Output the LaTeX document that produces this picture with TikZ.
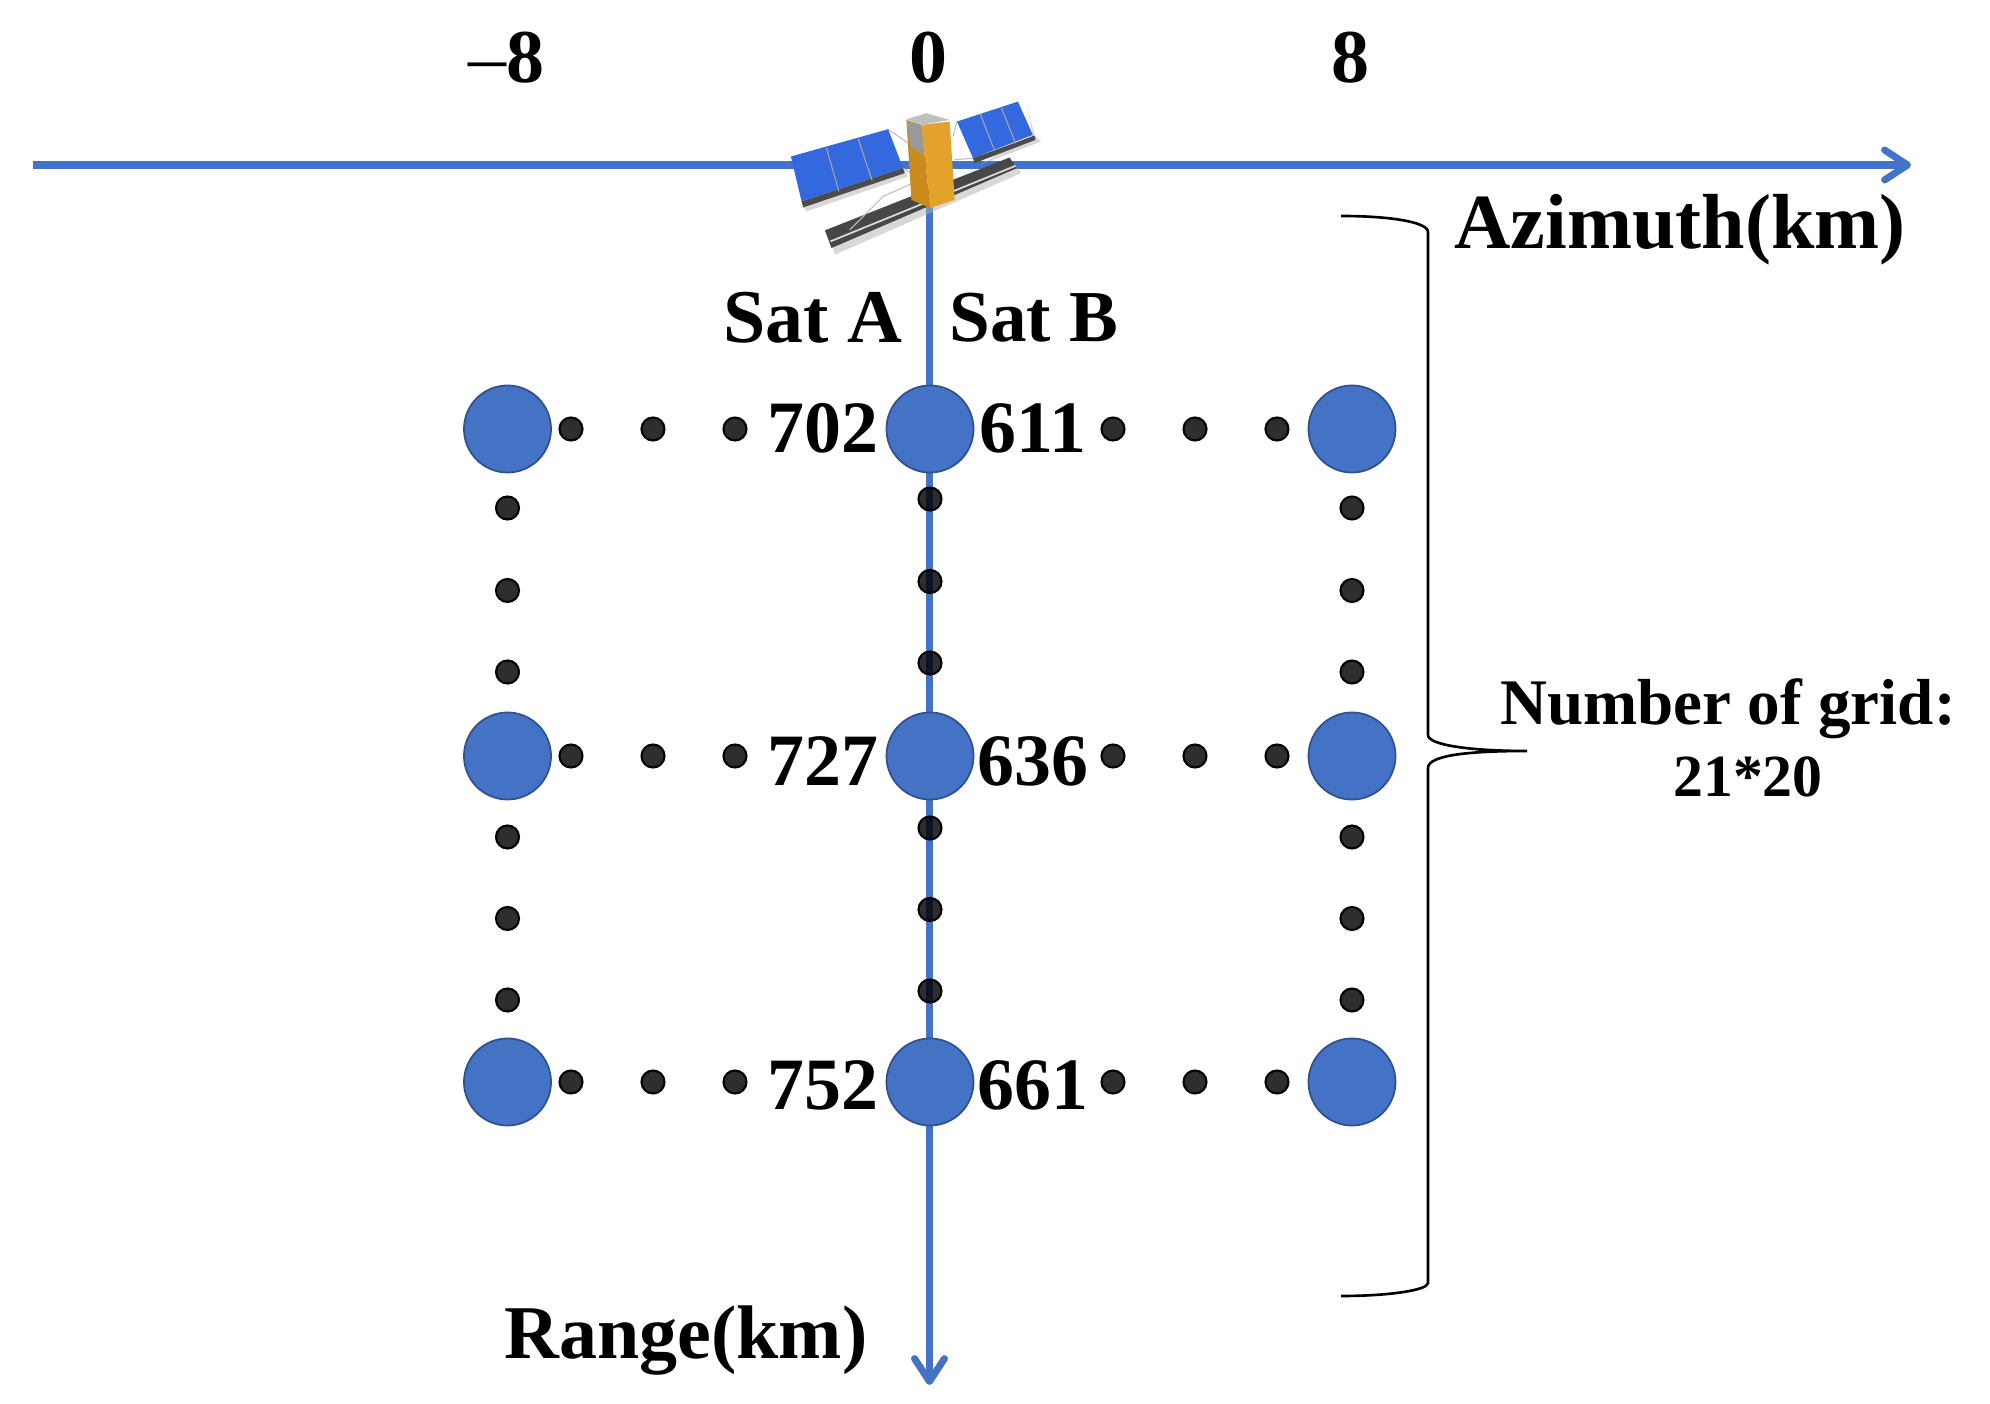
\documentclass[tikz,border=0pt]{standalone}
\usepackage{fontspec}
\setmainfont{Liberation Serif}
\usetikzlibrary{arrows.meta}
\definecolor{axisblue}{HTML}{4472C4}
\definecolor{ptedge}{HTML}{2F528F}
\definecolor{panelblue}{HTML}{3468DE}
\definecolor{goldlit}{HTML}{E3A22B}
\definecolor{golddark}{HTML}{C98A1E}
\tikzset{
	gridpt/.style={circle,fill=axisblue,draw=ptedge,line width=.5pt,minimum size=.87cm,inner sep=0pt},
	griddot/.style={circle,fill=black,fill opacity=.82,draw=black,line width=.6pt,minimum size=.23cm,inner sep=0pt},
	axisline/.style={draw=axisblue,line width=2pt},
	axistip/.style={-{Straight Barb[length=6.5pt,width=8.5pt,round]}},
	bigtxt/.style={anchor=base,inner sep=0pt,font=\fontsize{21.6}{24}\selectfont\bfseries},
	midtxt/.style={anchor=base,inner sep=0pt,font=\fontsize{21}{24}\selectfont\bfseries},
	smalltxt/.style={anchor=base,inner sep=0pt,font=\fontsize{18.5}{22}\selectfont\bfseries}
}
\begin{document}
\begin{tikzpicture}[x=.01cm,y=-.01cm]
	\useasboundingbox (0,0) rectangle (1990,1404);
	\coordinate (azL) at (33,165);
	\coordinate (azR) at (1911,165);
	\coordinate (rgT) at (929.5,200);
	\coordinate (rgB) at (929.5,1385);
	\draw [axisline,axistip] (azL) -- (azR);
	\draw [axisline,axistip] (rgT) -- (rgB);
	\node[gridpt] (a1) at (507.5,429){};
	\node[gridpt] (a2) at (507.5,756){};
	\node[gridpt] (a3) at (507.5,1082){};
	\node[gridpt] (b1) at (930,429){};
	\node[gridpt] (b2) at (930,756){};
	\node[gridpt] (b3) at (930,1082){};
	\node[gridpt] (c1) at (1352,429){};
	\node[gridpt] (c2) at (1352,756){};
	\node[gridpt] (c3) at (1352,1082){};
	\node[griddot] (h11) at (571,429){};
	\node[griddot] (h12) at (653,429){};
	\node[griddot] (h13) at (735,429){};
	\node[griddot] (h14) at (1113,429){};
	\node[griddot] (h15) at (1195,429){};
	\node[griddot] (h16) at (1277,429){};
	\node[griddot] (h21) at (571,756){};
	\node[griddot] (h22) at (653,756){};
	\node[griddot] (h23) at (735,756){};
	\node[griddot] (h24) at (1113,756){};
	\node[griddot] (h25) at (1195,756){};
	\node[griddot] (h26) at (1277,756){};
	\node[griddot] (h31) at (571,1082){};
	\node[griddot] (h32) at (653,1082){};
	\node[griddot] (h33) at (735,1082){};
	\node[griddot] (h34) at (1113,1082){};
	\node[griddot] (h35) at (1195,1082){};
	\node[griddot] (h36) at (1277,1082){};
	\node[griddot] (v11) at (507.5,508){};
	\node[griddot] (v12) at (507.5,590.5){};
	\node[griddot] (v13) at (507.5,672){};
	\node[griddot] (v14) at (507.5,837){};
	\node[griddot] (v15) at (507.5,918.5){};
	\node[griddot] (v16) at (507.5,1000){};
	\node[griddot] (v21) at (930,499){};
	\node[griddot] (v22) at (930,581.5){};
	\node[griddot] (v23) at (930,663){};
	\node[griddot] (v24) at (930,828){};
	\node[griddot] (v25) at (930,909.5){};
	\node[griddot] (v26) at (930,991){};
	\node[griddot] (v31) at (1352,508){};
	\node[griddot] (v32) at (1352,590.5){};
	\node[griddot] (v33) at (1352,672){};
	\node[griddot] (v34) at (1352,837){};
	\node[griddot] (v35) at (1352,918.5){};
	\node[griddot] (v36) at (1352,1000){};
	\begin{scope}[shift={(740,60)},x=.00333cm,y=-.00333cm]
		\fill [black!30,opacity=.5] (270,530) -- (825,312) -- (845,340) -- (285,585) -- cycle;
		\fill [black!30,opacity=.5] (185,430) -- (495,330) -- (505,350) -- (200,455) -- cycle;
		\fill [black!30,opacity=.5] (860,130) -- (885,225) -- (905,245) -- (720,315) -- (880,225) -- cycle;
		\fill [black!72] (255,512) -- (810,293) -- (832,325) -- (275,565) -- cycle;
		\draw [black!15,line width=.5pt] (272,545) -- (828,318);
		\draw [black!25,line width=.3pt] (330,510) -- (430,410) -- (520,370);
		\draw [black!25,line width=.3pt] (445,208) -- (505,250);
		\draw [black!25,line width=.3pt] (490,325) -- (515,340);
		\draw [black!25,line width=.3pt] (652,185) -- (640,230);
		\draw [black!25,line width=.3pt] (700,295) -- (645,300);
		\fill [panelblue] (153,290) -- (445,208) -- (490,325) -- (185,425) -- cycle;
		\fill [black!70] (185,425) -- (490,325) -- (495,340) -- (190,443) -- cycle;
		\draw [black!35,line width=.3pt] (260,265) -- (297,395);
		\draw [black!35,line width=.3pt] (355,237) -- (397,362);
		\fill [panelblue] (652,185) -- (835,125) -- (880,225) -- (700,295) -- cycle;
		\fill [black!70] (700,295) -- (885,227) -- (888,240) -- (705,310) -- cycle;
		\draw [black!35,line width=.3pt] (722,162) -- (765,272);
		\draw [black!35,line width=.3pt] (785,143) -- (828,250);
		\fill [golddark] (500,180) -- (545,195) -- (572,445) -- (515,420) -- cycle;
		\fill [black!40] (503,185) -- (545,195) -- (553,285) -- (510,260) -- cycle;
		\fill [goldlit] (545,195) -- (630,185) -- (645,420) -- (572,445) -- cycle;
		\fill [black!25] (500,178) -- (560,160) -- (630,180) -- (545,195) -- cycle;
	\end{scope}
	\node[bigtxt] (lm8) at (506.5,83){{\mdseries --}8};
	\node[bigtxt] (l0) at (928,83){0};
	\node[bigtxt] (l8) at (1350,83){8};
	\node[bigtxt,font=\fontsize{22.2}{24}\selectfont\bfseries] (laz) at (1680,249){Azimuth(km)};
	\node[bigtxt] (lrg) at (686,1359){Range(km)};
	\node[bigtxt] (lsa) at (813,343){Sat A};
	\node[bigtxt,font=\fontsize{20.8}{24}\selectfont\bfseries] (lsb) at (1034,342){Sat B};
	\node[midtxt] (n702) at (823,452.5){702};
	\node[midtxt] (n611) at (1033,452.5){611};
	\node[midtxt] (n727) at (823,785.5){727};
	\node[midtxt] (n636) at (1033,785.5){636};
	\node[midtxt] (n752) at (823,1109.5){752};
	\node[midtxt] (n661) at (1033,1109.5){661};
	\node[smalltxt] (lgrid) at (1728,725){Number of grid:};
	\node[smalltxt,font=\fontsize{17}{22}\selectfont\bfseries] (lnum) at (1748,797){21*20};
	\coordinate (brT) at (1341,216);
	\coordinate (brM) at (1527,751);
	\coordinate (brB) at (1341,1296);
	\draw [black,line width=.75pt] (brT) .. controls (1390,216) and (1428,222) .. (1428,232) -- (1428,735) .. controls (1428,745) and (1470,751) .. (brM) .. controls (1470,751) and (1428,755) .. (1428,768) -- (1428,1283) .. controls (1428,1290) and (1390,1296) .. (brB);
\end{tikzpicture}
\end{document}
